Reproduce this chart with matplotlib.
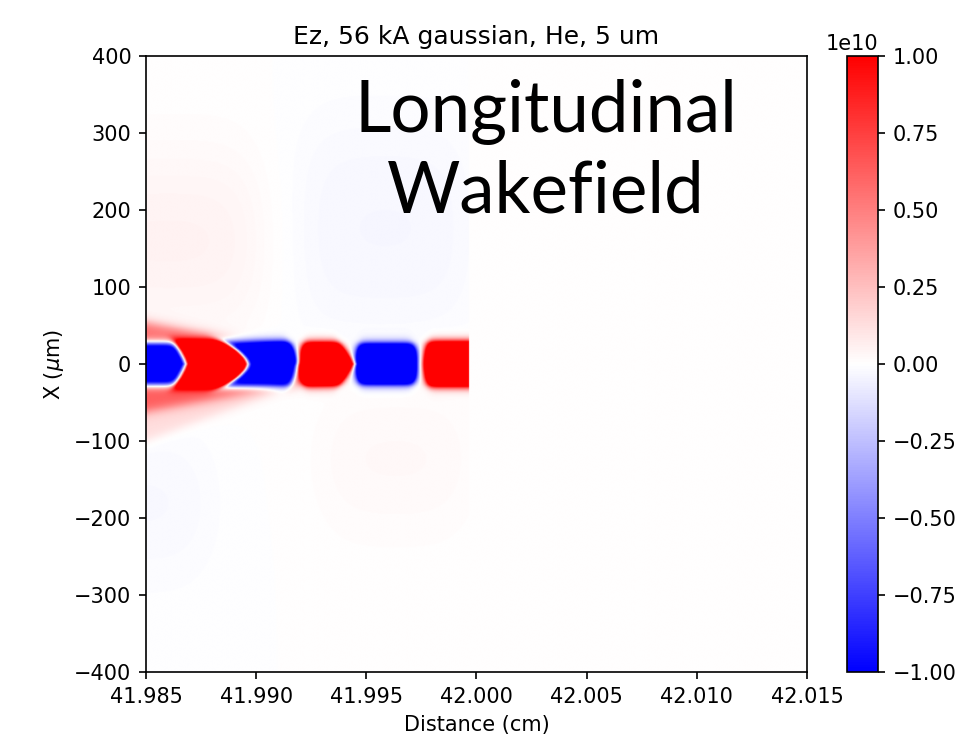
import numpy as np
import matplotlib
matplotlib.use("Agg")
import matplotlib.pyplot as plt

# simulation window (cm, um)
z_min, z_max = 41.985, 42.015
x_min, x_max = -400.0, 400.0
window_end = 41.99964   # field is zero ahead of the drive beam

# on-axis wake buckets
# back/front: position on axis (cm); back_d/front_d: shift of that boundary at the bucket edge (cm)
bucket_back = [41.98000, 41.98691, 41.98959, 41.99195, 41.99450, 41.99759]
bucket_back_d = [0.0, -0.00059, -0.00100, 0.00018, 0.00014, 0.00018]
bucket_front = [41.98680, 41.98950, 41.99186, 41.99443, 41.99727, 42.00050]
bucket_front_d = [-0.00050, -0.00114, -0.00036, -0.00065, -0.00014, 0.0]
bucket_p = [1.0, 1.5, 1.6, 1.0, 2.5, 2.0]
bucket_w = [27.0, 29.0, 29.0, 28.0, 26.0, 29.0]
bucket_sign = [-1, 1, -1, 1, -1, 1]

# red sheath wings hugging the axis: side, closing point (cm), outer |x| at left edge (um), amplitude
wing_side = [1, -1, -1]
wing_z_end = [41.9916, 41.9934, 41.9926]
wing_x_edge = [54.0, 62.0, 100.0]
wing_amp = [0.55, 0.50, 0.14]

# faint background regions: z range (cm), x range (um), amplitude
patch_z0 = [41.9820, 41.9920, 41.9930, 41.9820]
patch_z1 = [41.9900, 41.99964, 41.99964, 41.9878]
patch_x0 = [70.0, 50.0, -190.0, -250.0]
patch_x1 = [250.0, 300.0, -50.0, -110.0]
patch_amp = [0.06, -0.035, 0.035, -0.035]

cbar_ticks = [-1.0, -0.75, -0.5, -0.25, 0.0, 0.25, 0.5, 0.75, 1.0]


def sig(u):
    return 1.0 / (1.0 + np.exp(-u))


z = np.linspace(z_min, z_max, 1000)
x = np.linspace(x_min, x_max, 700)
Z, X = np.meshgrid(z, x)
r_abs = np.abs(X)

ez = np.zeros_like(Z)

# faint halo regions, very diffuse
for z0, z1, x0, x1, a in zip(patch_z0, patch_z1, patch_x0, patch_x1, patch_amp):
    ez += a * sig((Z - z0) / 0.0007) * sig((z1 - Z) / 0.0007) \
        * sig((X - x0) / 40.0) * sig((x1 - X) / 40.0)

# sheath wings
for side, ze, xe, a in zip(wing_side, wing_z_end, wing_x_edge, wing_amp):
    frac = np.clip((ze - Z) / (ze - z_min), 0, None)
    outer = 18.0 + (xe - 18.0) * frac
    on_side = sig(side * X / 2.0)
    ez += a * on_side * sig((outer - r_abs) / 4.0) * sig((ze - Z) / 0.0002)

# buckets: arch shaped regions between a back and a front boundary
sz = 0.00010
for zb, db, zf, df, p, w, s in zip(bucket_back, bucket_back_d, bucket_front,
                                   bucket_front_d, bucket_p, bucket_w, bucket_sign):
    rr = np.clip(r_abs / w, 0, 1.3)
    back = zb + db * rr ** 1.7
    front = zf + df * rr ** p
    inside = sig((Z - back) / sz) * sig((front - Z) / sz) * sig((w - r_abs) / 3.0)
    ez += s * 2.0 * inside

ez[Z > window_end] = 0.0
ez = ez * 1e10

fig = plt.figure(figsize=(6.5, 4.98), dpi=150)
ax = fig.add_axes([0.1497, 0.1004, 0.678, 0.8246])
cax = fig.add_axes([0.8687, 0.1004, 0.0318, 0.8246])

im = ax.imshow(ez, cmap="bwr", vmin=-1e10, vmax=1e10, origin="lower",
               extent=[z_min, z_max, x_min, x_max], aspect="auto",
               interpolation="bilinear")
ax.set_xlim(z_min, z_max)
ax.set_ylim(x_min, x_max)
ax.set_xticks([41.985, 41.990, 41.995, 42.000, 42.005, 42.010, 42.015])
ax.ticklabel_format(axis="x", useOffset=False)
ax.set_xticklabels(["41.985", "41.990", "41.995", "42.000", "42.005", "42.010", "42.015"])
ax.set_yticks(np.arange(-400, 401, 100))
ax.set_xlabel("Distance (cm)")
ax.set_ylabel(r"X ($\mu$m)")
ax.set_title("Ez, 56 kA gaussian, He, 5 um")

cb = fig.colorbar(im, cax=cax, ticks=np.array(cbar_ticks) * 1e10)

fig.text(0.56, 0.8233, "Longitudinal", ha="center", va="baseline",
         fontsize=34, family=["Lato", "DejaVu Sans"])
fig.text(0.56, 0.7149, "Wakefield", ha="center", va="baseline",
         fontsize=34, family=["Lato", "DejaVu Sans"])

fig.savefig("out.png", dpi=150)
